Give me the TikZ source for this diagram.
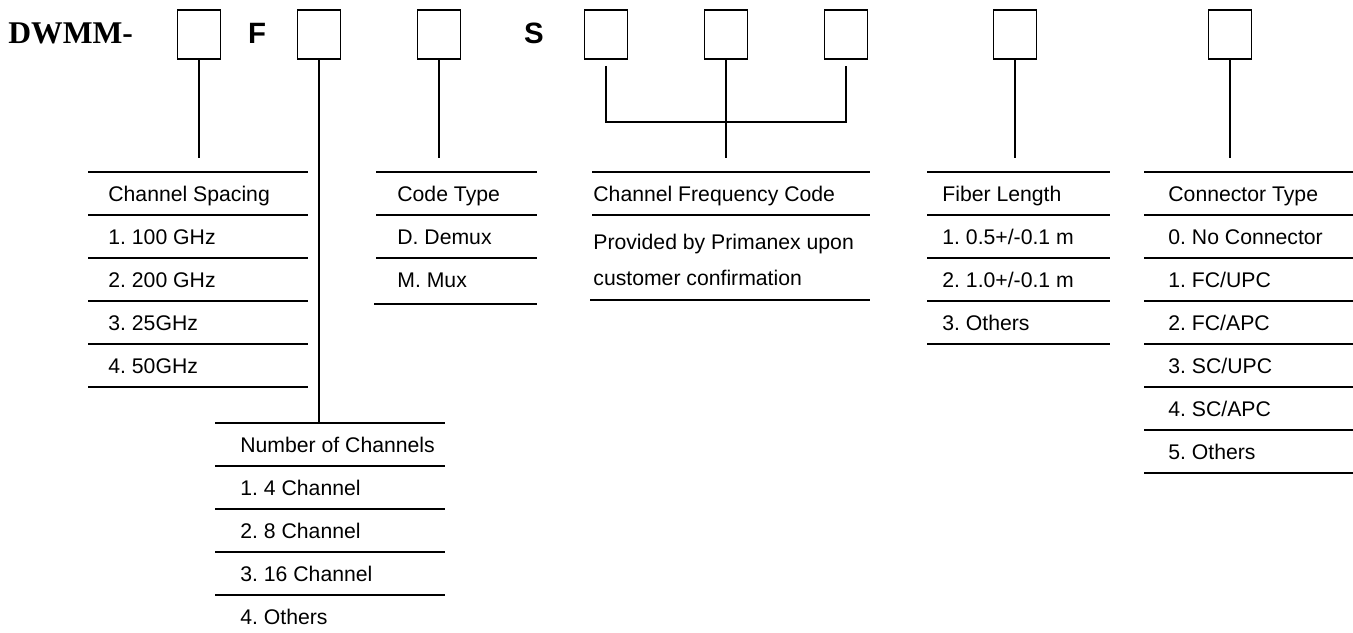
\documentclass[tikz,border=0pt]{standalone}
\usepackage{fontspec}
\setmainfont{Liberation Sans}
\newfontfamily\titlefont{Liberation Serif}
\usetikzlibrary{positioning}
\frenchspacing

\begin{document}
\begin{tikzpicture}[x=0.5pt,y=-0.5pt,
    digit/.style={draw,line width=0.75pt,minimum width=21.5pt,minimum height=24.5pt,inner sep=0pt},
    entry/.style={anchor=base west,inner sep=0pt,font=\fontsize{10.6}{12}\selectfont},
    letter/.style={anchor=base,inner sep=0pt,font=\bfseries\fontsize{14.7}{17}\selectfont},
    rule/.style={line width=1pt},
    lead/.style={line width=1pt}]
\useasboundingbox (0,0) rectangle (1353,632);
% part number
\node[anchor=base west,inner sep=0pt,font=\titlefont\bfseries\fontsize{15.8}{18}\selectfont] (pn) at (8,43) {DWMM-};
\node[letter] (lf) at (257,43) {F};
\node[letter] (ls) at (534,43) {S};
\node[digit] (b1) at (199,34.5) {};
\node[digit] (b2) at (319,34.5) {};
\node[digit] (b3) at (439,34.5) {};
\node[digit] (b4) at (606,34.5) {};
\node[digit] (b5) at (726,34.5) {};
\node[digit] (b6) at (846,34.5) {};
\node[digit] (b7) at (1015,34.5) {};
\node[digit] (b8) at (1230,34.5) {};
% leads
\draw[lead] (b1.south) -- (b1 |- 0,158);
\draw[lead] (b2.south) -- (b2 |- 0,423);
\draw[lead] (b3.south) -- (b3 |- 0,158);
\draw[lead] (b5.south) -- (b5 |- 0,158);
\draw[lead] ([yshift=-3pt]b4.south) |- (b5 |- 0,122) -| ([yshift=-3pt]b6.south);
\draw[lead] (b7.south) -- (b7 |- 0,158);
\draw[lead] (b8.south) -- (b8 |- 0,158);
% channel spacing
\foreach \k in {0,...,5} \draw[rule] (88,172+43*\k) -- (308,172+43*\k);
\foreach \t [count=\i from 0] in {Channel Spacing,1. 100 GHz,2. 200 GHz,3. 25GHz,4. 50GHz}
    \node[entry] (cs\i) at (108,201+43*\i) {\t};
% number of channels
\foreach \k in {0,...,4} \draw[rule] (215,423+43*\k) -- (445,423+43*\k);
\foreach \t [count=\i from 0] in {Number of Channels,1. 4 Channel,2. 8 Channel,3. 16 Channel,4. Others}
    \node[entry] (nc\i) at (240,452+43*\i) {\t};
% code type
\foreach \k in {0,...,2} \draw[rule] (376,172+43*\k) -- (537,172+43*\k);
\draw[rule] (374,304) -- (537,304);
\foreach \t [count=\i from 0] in {Code Type,D. Demux,M. Mux}
    \node[entry] (ct\i) at (397,201+43*\i) {\t};
% channel frequency code
\draw[rule] (592,172) -- (870,172);
\draw[rule] (592,215) -- (870,215);
\draw[rule] (590,300) -- (870,300);
\node[entry] (cf0) at (593,201) {Channel Frequency Code};
\node[entry] (cf1) at (593,249) {Provided by Primanex upon};
\node[entry] (cf2) at (593,285) {customer confirmation};
% fiber length
\foreach \k in {0,...,4} \draw[rule] (927,172+43*\k) -- (1110,172+43*\k);
\foreach \t [count=\i from 0] in {Fiber Length,1. 0.5+/-0.1 m,2. 1.0+/-0.1 m,3. Others}
    \node[entry] (fl\i) at (942,201+43*\i) {\t};
% connector type
\foreach \k in {0,...,7} \draw[rule] (1144,172+43*\k) -- (1353,172+43*\k);
\foreach \t [count=\i from 0] in {Connector Type,0. No Connector,1. FC/UPC,2. FC/APC,3. SC/UPC,4. SC/APC,5. Others}
    \node[entry] (co\i) at (1168,201+43*\i) {\t};
\end{tikzpicture}
\end{document}
